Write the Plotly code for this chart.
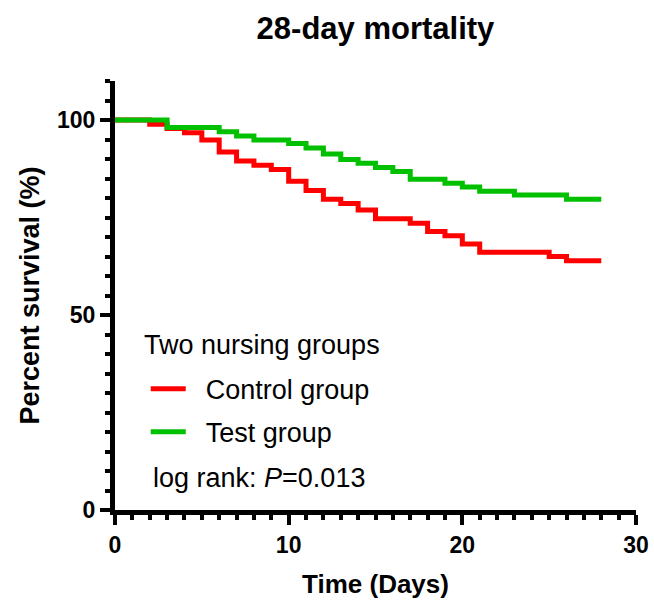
import plotly.graph_objects as go

# Kaplan-Meier step data (day, percent survival)
control_days = [0, 2, 3, 4, 5, 6, 7, 8, 9, 10, 11, 12, 13, 14, 15, 17, 18, 19, 20, 21, 25, 26, 28]
control_surv = [100, 98.9, 97.8, 96.7, 94.9, 91.8, 89.5, 88.4, 87.3, 84.3, 81.9, 79.7, 78.6, 76.9, 74.7, 73.5, 71.4, 70.3, 68.2, 66.1, 65.0, 63.9, 63.9]

test_days = [0, 3, 6, 7, 8, 10, 11, 12, 13, 14, 15, 16, 17, 19, 20, 21, 23, 26, 28]
test_surv = [100, 98.1, 97.0, 95.9, 94.9, 94.0, 92.8, 91.3, 89.9, 88.9, 87.8, 86.8, 84.8, 83.8, 82.8, 81.7, 80.8, 79.7, 79.7]

x_ticks = [0, 10, 20, 30]
y_ticks = [0, 50, 100]

FONT = "Arial, 'Liberation Sans', Helvetica, sans-serif"
NB = "\u00a0"

fig = go.Figure()
fig.add_trace(go.Scatter(x=control_days, y=control_surv, mode="lines", line_shape="hv",
                         line=dict(color="#ff0000", width=5), name=NB * 2 + "Control group",
                         legendgroup="c"))
fig.add_trace(go.Scatter(x=test_days, y=test_surv, mode="lines", line_shape="hv",
                         line=dict(color="#00c000", width=5), name=NB * 2 + "Test group",
                         legendgroup="t"))

fig.update_layout(
    width=654, height=601,
    paper_bgcolor="white", plot_bgcolor="white",
    margin=dict(l=115, r=18, t=81, b=91, autoexpand=False),
    font=dict(family=FONT, color="black"),
    title=dict(text="<b>28-day mortality</b>", x=0.5, xanchor="center",
               xref="paper", y=0.953, yanchor="middle", yref="container",
               font=dict(size=31, family=FONT, color="black")),
    showlegend=True,
    legend=dict(x=0.059, y=0.3387, xanchor="left", yanchor="top",
                bgcolor="rgba(0,0,0,0)",
                font=dict(size=27, family=FONT), tracegroupgap=5,
                itemwidth=35),
    xaxis=dict(range=[0, 30], tickvals=x_ticks, showgrid=False, zeroline=False,
               automargin=False,
               showline=True, linecolor="black", linewidth=5,
               ticks="outside", ticklen=10, tickwidth=4, tickcolor="black",
               minor=dict(dtick=1, ticks="outside", ticklen=5, tickwidth=4, tickcolor="black"),
               tickfont=dict(size=23, family=FONT, color="black", weight="bold"),
               title=dict(text="<b>Time (Days)</b>", font=dict(size=26, family=FONT), standoff=20)),
    yaxis=dict(range=[0, 110], tickvals=y_ticks, showgrid=False, zeroline=False,
               automargin=False,
               showline=True, linecolor="black", linewidth=5,
               ticks="outside", ticklen=10, tickwidth=4, tickcolor="black",
               minor=dict(dtick=5, ticks="outside", ticklen=5, tickwidth=4, tickcolor="black"),
               tickfont=dict(size=23, family=FONT, color="black", weight="bold"),
               title=dict(text="<b>Percent survival (%)</b>", font=dict(size=27, family=FONT), standoff=11)),
)

# legend heading
fig.add_annotation(text="Two nursing groups", x=0.052, y=0.385, xref="paper", yref="paper",
                   xanchor="left", yanchor="middle", showarrow=False,
                   font=dict(size=27, family=FONT, color="black"))

fig.add_annotation(text="log rank: <i>P</i>=0.013", x=0.0691, y=0.0745, xref="paper", yref="paper",
                   xanchor="left", yanchor="middle", showarrow=False,
                   font=dict(size=27, family=FONT, color="black"))

fig.write_html("out.html")
